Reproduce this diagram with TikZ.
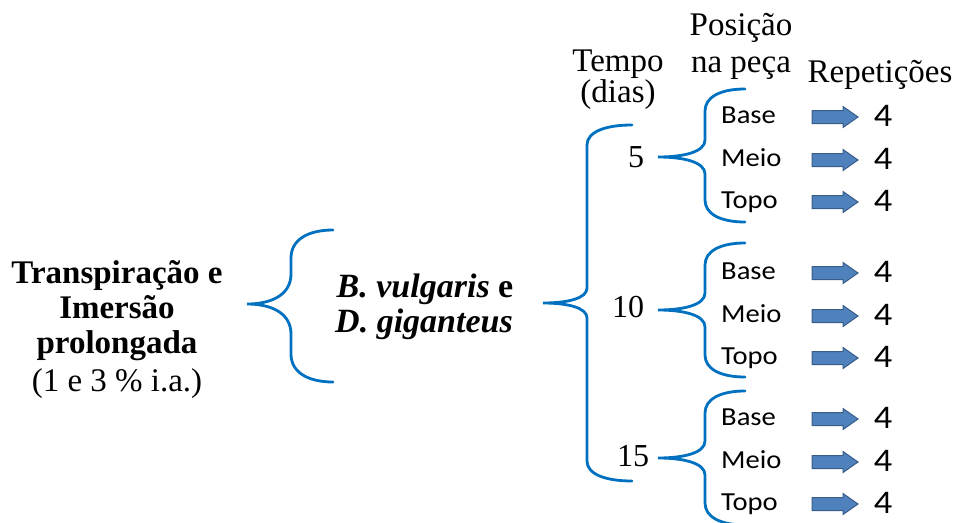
\documentclass[tikz,border=0pt]{standalone}
\usepackage{fontspec}
\setmainfont{Liberation Serif}
\newfontfamily\calfont[FakeStretch=1.1]{Carlito}
\definecolor{bracecol}{HTML}{0070C0}
\definecolor{arrowfill}{HTML}{4F81BD}
\definecolor{arrowline}{HTML}{385D8A}
\tikzset{
  bracestyle/.style={draw=bracecol, line width=2.8pt, line cap=round},
  arrowstyle/.style={fill=arrowfill, draw=arrowline, line width=1pt, line join=miter},
  blockarrow/.pic={\path[arrowstyle] (0,-6.5) -- (31,-6.5) -- (31,-10.5) -- (46,0) -- (31,10.5) -- (31,6.5) -- (0,6.5) -- cycle;},
  maintxt/.style={font=\fontsize{33}{37}\selectfont\bfseries, anchor=base, inner sep=0},
  hdr/.style={font=\fontsize{33}{36}\selectfont, anchor=base, inner sep=0},
  num/.style={font=\fontsize{32}{34}\selectfont, anchor=base, inner sep=0},
  postxt/.style={font=\fontsize{26}{28}\calfont, anchor=base west, inner sep=0},
  rep/.style={font=\fontsize{33}{36}\calfont, anchor=base, inner sep=0},
}
% xe, xv, xt, yt, ym, yb, corner, middle
\newcommand\drawbrace[8]{%
  \draw[bracestyle] (#1,#4) .. controls ({#2+0.4*(#1-#2)},#4) and (#2,{#4+0.35*#7}) .. (#2,{#4+#7})
   -- (#2,{#5-#8}) .. controls (#2,{#5-0.3*#8}) and ({#2-0.45*(#2-#3)},#5) .. (#3,#5)
   .. controls ({#2-0.45*(#2-#3)},#5) and (#2,{#5+0.3*#8}) .. (#2,{#5+#8})
   -- (#2,{#6-#7}) .. controls (#2,{#6-0.35*#7}) and ({#2+0.4*(#1-#2)},#6) .. (#1,#6);}
\begin{document}
\begin{tikzpicture}[x=1pt,y=-1pt]
\useasboundingbox (0,0) rectangle (968,522);
% left block
\node[maintxt] (l1) at (117,283) {Transpiração e};
\node[maintxt] (l2) at (117,318) {Imersão};
\node[maintxt] (l3) at (117,353) {prolongada};
\node[maintxt, font=\fontsize{33}{37}\selectfont] (l4) at (117,391) {(1 e 3 \% i.a.)};
% first brace
\drawbrace{333}{291}{247}{230}{304}{382}{28}{30}
% species
\node[maintxt, font=\fontsize{34}{37}\selectfont\bfseries] (s1) at (425,297) {\textit{B. vulgaris} e};
\node[maintxt, font=\fontsize{34}{37}\selectfont\bfseries\itshape] (s2) at (424,332) {D. giganteus};
% second brace
\drawbrace{632}{587}{543}{125}{303}{481}{20}{15}
% headers
\node[hdr] (hp1) at (741,35) {Posição};
\node[hdr] (hp2) at (741,72) {na peça};
\node[hdr] (ht1) at (618,71) {Tempo};
\node[hdr] (ht2) at (618,102) {(dias)};
\node[hdr] (hr) at (880,82) {Repetições};
% numbers
\node[num] (n5) at (636,167) {5};
\node[num] (n10) at (628,317) {10};
\node[num] (n15) at (633,466) {15};
% small braces
\drawbrace{745}{705}{658}{89}{157}{222}{22}{17}
\drawbrace{745}{705}{658}{243}{310}{377}{22}{17}
\drawbrace{745}{705}{658}{391}{458}{525}{22}{17}
% positions, arrows, repetitions
\foreach \g/\yb in {1/123, 2/279, 3/425}{
  \foreach \i/\t/\d in {1/Base/0, 2/Meio/43, 3/Topo/85}{
    \node[postxt] (p\g\i) at (721,{\yb+\d}) {\t};
    \pic at (812,{\yb+\d-6}) {blockarrow};
    \node[rep] (r\g\i) at (883,{\yb+\d+3}) {4};
  }
}
\end{tikzpicture}
\end{document}
